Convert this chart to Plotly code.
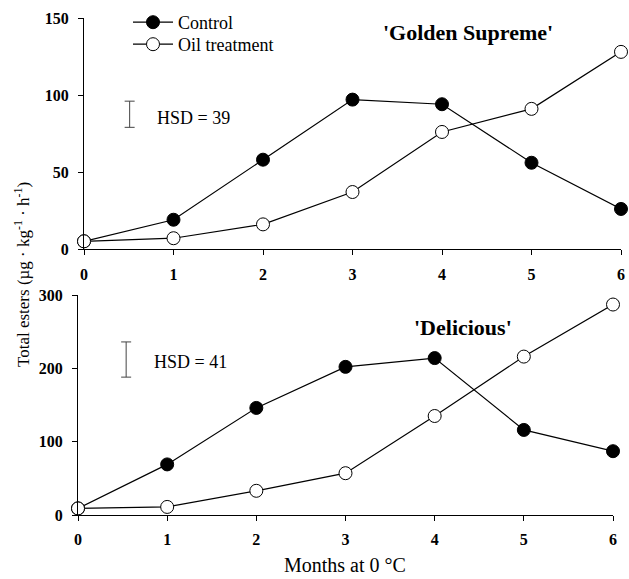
import plotly.graph_objects as go

months = [0, 1, 2, 3, 4, 5, 6]
gs_control = [5, 19, 58, 97, 94, 56, 26]
gs_oil = [5, 7, 16, 37, 76, 91, 128]
del_control = [9, 69, 146, 202, 214, 116, 87]
del_oil = [9, 11, 33, 57, 135, 216, 287]

hsd_top_x = [0.51]
hsd_top_center = [87.5]
hsd_top_half = [8.5]
hsd_bot_x = [0.54]
hsd_bot_center = [212]
hsd_bot_half = [24]

FONT = "Liberation Serif"
fig = go.Figure()

def add_series(x, y, filled, xa, ya, name, show, legend="legend"):
    fig.add_trace(go.Scatter(
        x=x, y=y, mode="lines+markers", name=name, showlegend=show, legend=legend,
        line=dict(color="black", width=1.2),
        marker=dict(size=13, symbol="circle",
                    color="black" if filled else "white",
                    line=dict(color="black", width=1)),
        xaxis=xa, yaxis=ya, cliponaxis=False))

add_series(months, gs_control, True, "x", "y", "Control", True, "legend")
add_series(months, gs_oil, False, "x", "y", "Oil treatment", True, "legend2")
add_series(months, del_control, True, "x2", "y2", "Control", False)
add_series(months, del_oil, False, "x2", "y2", "Oil treatment", False)

for xs, cs, hs, xa, ya in [(hsd_top_x, hsd_top_center, hsd_top_half, "x", "y"),
                           (hsd_bot_x, hsd_bot_center, hsd_bot_half, "x2", "y2")]:
    fig.add_trace(go.Scatter(
        x=xs, y=cs, mode="markers", showlegend=False,
        marker=dict(size=1, color="rgba(0,0,0,0)"),
        error_y=dict(type="data", array=hs, visible=True, color="#444",
                     thickness=1, width=5),
        xaxis=xa, yaxis=ya, hoverinfo="skip"))

tickfont = dict(family=FONT, size=16, color="black", weight="bold")
axis_common = dict(showline=True, linecolor="black", linewidth=1,
                   ticks="outside", ticklen=5, tickcolor="black",
                   showgrid=False, zeroline=False, tickfont=tickfont,
                   automargin=False)

legend_common = dict(xanchor="left", yanchor="top", bgcolor="rgba(0,0,0,0)",
                     font=dict(family=FONT, size=18), itemwidth=40)

fig.update_layout(
    width=629, height=579,
    margin=dict(l=0, r=0, t=0, b=0),
    plot_bgcolor="white", paper_bgcolor="white",
    font=dict(family=FONT, color="black"),
    xaxis=dict(domain=[84/629, 621/629], range=[0, 6], tickvals=months,
               anchor="y", ticklabelstandoff=6, **axis_common),
    yaxis=dict(domain=[1-249/579, 1-18/579], range=[0, 150],
               tickvals=[0, 50, 100, 150], anchor="x", ticklabelstandoff=6, **axis_common),
    xaxis2=dict(domain=[78/629, 613/629], range=[0, 6], tickvals=months,
                anchor="y2", ticklabelstandoff=5, **axis_common),
    yaxis2=dict(domain=[1-515/579, 1-295/579], range=[0, 300],
                tickvals=[0, 100, 200, 300], anchor="x2", ticklabelstandoff=6, **axis_common),
    legend=dict(x=128/629, y=1-4/579, **legend_common),
    legend2=dict(x=128/629, y=1-26/579, **legend_common),
    annotations=[
        dict(text="'Golden Supreme'", x=468/629, y=1-33/579, xref="paper", yref="paper",
             xanchor="center", yanchor="middle",
             showarrow=False, font=dict(family=FONT, size=22, weight="bold")),
        dict(text="'Delicious'", x=463/629, y=1-327/579, xref="paper", yref="paper",
             xanchor="center", yanchor="middle",
             showarrow=False, font=dict(family=FONT, size=22, weight="bold")),
        dict(text="HSD = 39", x=155/629, y=1-118/579, xref="paper", yref="paper",
             xanchor="left", yanchor="middle", showarrow=False, font=dict(family=FONT, size=18)),
        dict(text="HSD = 41", x=152/629, y=1-362/579, xref="paper", yref="paper",
             xanchor="left", yanchor="middle", showarrow=False, font=dict(family=FONT, size=18)),
        dict(text="Total esters (µg · kg<sup>-1</sup> · h<sup>-1</sup>)", x=22/629, y=1-275/579,
             xref="paper", yref="paper", textangle=-90, showarrow=False,
             xanchor="center", yanchor="middle",
             font=dict(family=FONT, size=17)),
        dict(text="Months at 0 °C", x=345/629, y=1/579, xref="paper", yref="paper",
             xanchor="center", yanchor="bottom",
             showarrow=False, font=dict(family=FONT, size=20)),
    ],
)

fig.write_html("out.html", config={"displayModeBar": False},
               post_script="document.body.style.margin='0';document.body.style.padding='0';document.body.style.overflow='hidden';")
